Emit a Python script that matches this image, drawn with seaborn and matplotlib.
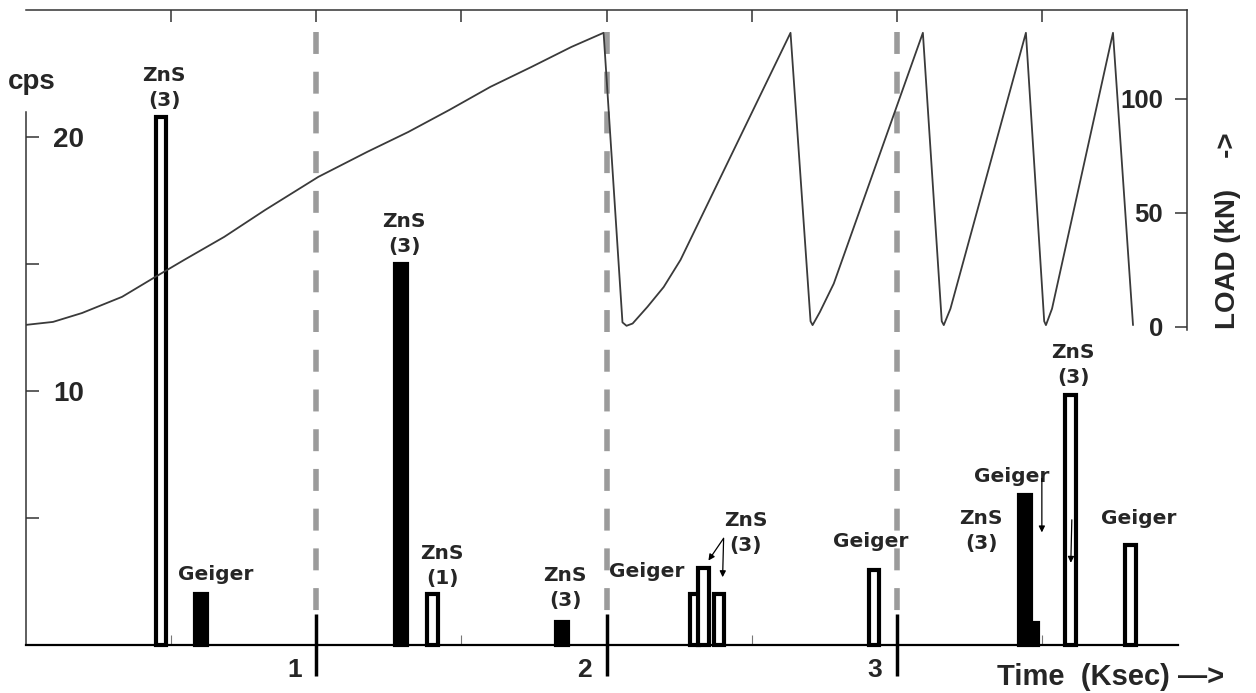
"""Radiation counts (cps) and load curve versus time for a loaded specimen."""

import matplotlib

matplotlib.use("Agg")

import matplotlib.pyplot as plt
import matplotlib.transforms as mtransforms
import numpy as np
import seaborn as sns


# load curve, time in Ksec, load in kN
LOAD_TIME = [0.000, 0.093, 0.193, 0.331, 0.445, 0.545, 0.683, 0.824, 1.007, 1.176,
             1.317, 1.459, 1.600, 1.741, 1.879, 1.990,
             2.055, 2.069, 2.090, 2.141, 2.197, 2.255, 2.634,
             2.703, 2.710, 2.735, 2.783, 3.090,
             3.155, 3.162, 3.185, 3.445,
             3.508, 3.514, 3.535, 3.745,
             3.814]
LOAD_KN = [0.9, 2.2, 6.1, 13.2, 21.9, 29.4, 39.5, 51.3, 65.8, 76.8,
           85.5, 95.2, 105.3, 114.0, 122.8, 129.0,
           2.0, 0.5, 1.5, 8.8, 17.5, 29.4, 129.0,
           2.5, 0.8, 6.5, 19.0, 129.0,
           2.5, 0.8, 8.0, 129.0,
           2.5, 0.8, 8.0, 129.0,
           0.8]

# count-rate bars
BAR_TIME = [0.466, 0.602, 1.293, 1.400, 1.847, 2.303, 2.334, 2.388,
            2.921, 3.443, 3.481, 3.598, 3.805]
BAR_CPS = [20.8, 2.0, 15.0, 2.0, 0.9, 2.0, 3.05, 2.0,
           2.95, 5.9, 0.85, 9.85, 3.95]

ANNOT_BAR = [0, 1, 2, 3, 4, 5, 6, 8, 9, 9, 11, 12]
ANNOT_TEXT = ["ZnS\n(3)", "Geiger", "ZnS\n(3)", "ZnS\n(1)", "ZnS\n(3)", "Geiger",
              "ZnS\n(3)", "Geiger", "ZnS\n(3)", "Geiger", "ZnS\n(3)", "Geiger"]

MARK_TIMES = [1, 2, 3]
CPS_TICKS = [5, 10, 15, 20]
CPS_TICK_LABELS = ["", "10", "", "20"]
LOAD_TICKS = [0, 50, 100]

# layout (pixels at 100 dpi)
SOLID_BARS = {1, 2, 4, 9, 10}
OPEN_WIDTH = 0.036
SOLID_WIDTH = 0.041
WIDTH_OVERRIDE = {5: 0.028, 10: 0.012}
ANNOT_OFFSET = [(3, 7), (15, 10), (3, 8), (10, 6), (3, 12), (-48, 13), (42, 13),
                (-3, 19), (-44, -58), (-14, 9), (3, 8), (8, 17)]
# (bar, tip offset from bar top, tail offset from tip)
ARROWS = [(6, (5, 7), (15, 22)), (7, (3.5, 17), (1, 39)),
          (10, (5.5, 91), (0, 54)), (11, (0.5, -168), (1, 43))]

PT = 0.72


def main() -> None:
    sns.set_style("ticks")
    plt.rcParams["font.family"] = ["Liberation Sans", "DejaVu Sans"]
    plt.rcParams["font.weight"] = "bold"

    fig = plt.figure(figsize=(12.56, 6.93), dpi=100)
    ax = fig.add_axes([26 / 1256, 48 / 693, 1161 / 1256, 635 / 693])
    ax.set_xlim(0, 4)
    ax.set_ylim(0, 25)
    ax2 = ax.twinx()
    ax2.set_ylim(-139.5, 139.0)

    ax.vlines(MARK_TIMES, 24.15, 1.35, colors="#9b9b9b", linewidth=4.0,
              linestyles=[(0, (3.95, 3.2))], zorder=1)

    for i, (t, c) in enumerate(zip(BAR_TIME, BAR_CPS)):
        solid = i in SOLID_BARS
        width = WIDTH_OVERRIDE.get(i, SOLID_WIDTH if solid else OPEN_WIDTH)
        ax.bar(t, c, width=width, color="black" if solid else "white",
               edgecolor="black", linewidth=3.0, clip_on=False, zorder=3)

    sns.lineplot(x=LOAD_TIME, y=LOAD_KN, ax=ax2, color="#3a3a3a", linewidth=1.3,
                 estimator=None, sort=False)

    for bar, text, (dx, dy) in zip(ANNOT_BAR, ANNOT_TEXT, ANNOT_OFFSET):
        ax.annotate(text, xy=(BAR_TIME[bar], BAR_CPS[bar]), xytext=(dx * PT, dy * PT),
                    textcoords="offset points", ha="center", va="bottom",
                    fontsize=14.5, fontweight="bold", family="DejaVu Sans",
                    linespacing=1.4, annotation_clip=False, zorder=5)

    for bar, (tdx, tdy), (sdx, sdy) in ARROWS:
        tip = mtransforms.offset_copy(ax.transData, fig=fig, x=tdx * PT, y=tdy * PT,
                                      units="points")
        ax.annotate("", xy=(BAR_TIME[bar], BAR_CPS[bar]), xycoords=tip,
                    xytext=(sdx * PT, sdy * PT), textcoords="offset points",
                    arrowprops=dict(arrowstyle="-|>", color="black", lw=0.9,
                                    mutation_scale=9, shrinkA=0, shrinkB=0),
                    annotation_clip=False, zorder=5)

    # spines
    for side in ("top", "right"):
        ax.spines[side].set_visible(False)
    ax.spines["left"].set_bounds(0, 21.0)
    ax.spines["left"].set_linewidth(1.1)
    ax.spines["left"].set_color("#333333")
    ax.spines["bottom"].set_bounds(0, 3.97)
    ax.spines["bottom"].set_linewidth(1.6)
    ax.spines["bottom"].set_color("black")
    for side in ("top", "left", "bottom"):
        ax2.spines[side].set_visible(False)
    ax2.spines["right"].set_bounds(-1.3, 139.0)
    ax2.spines["right"].set_linewidth(1.1)
    ax2.spines["right"].set_color("#333333")

    top = ax.secondary_xaxis("top")
    top.set_xticks(np.arange(0.5, 4.0, 0.5))
    top.tick_params(direction="in", length=8.6, width=1.1, colors="#333333",
                    labeltop=False, labelbottom=False)
    top.spines["top"].set_linewidth(1.1)
    top.spines["top"].set_color("#333333")

    # bottom time axis
    ax.set_xticks(MARK_TIMES)
    ax.set_xticklabels([str(t) for t in MARK_TIMES])
    ax.set_xticks([0.5, 1.5, 2.5, 3.5], minor=True)
    ax.tick_params(axis="x", which="major", direction="inout", length=44, width=2.5,
                   color="black", pad=-12.6, labelsize=19)
    ax.tick_params(axis="x", which="minor", direction="in", length=7, width=0.8,
                   color="#777777")
    shift = mtransforms.ScaledTranslation(-22 / 100, 0, fig.dpi_scale_trans)
    for lab in ax.get_xticklabels():
        lab.set_transform(lab.get_transform() + shift)
        lab.set_fontweight("bold")

    # cps axis
    ax.set_yticks(CPS_TICKS)
    ax.set_yticklabels(CPS_TICK_LABELS)
    ax.tick_params(axis="y", direction="in", length=9.4, width=1.1, color="#333333",
                   pad=-19.4, labelsize=20)
    for lab in ax.get_yticklabels():
        lab.set_horizontalalignment("left")
        lab.set_fontweight("bold")

    # load axis
    ax2.set_yticks(LOAD_TICKS)
    ax2.set_yticklabels([str(v) for v in LOAD_TICKS])
    ax2.tick_params(axis="y", direction="in", length=8.6, width=1.1, color="#333333",
                    pad=-17.3, labelsize=18.5)
    for lab in ax2.get_yticklabels():
        lab.set_horizontalalignment("right")
        lab.set_fontweight("bold")
    ax2.set_ylabel("")
    ax.set_xlabel("")
    ax.set_ylabel("")

    fig.text(32 / 1256, 1 - 82 / 693, "cps", ha="center", va="center",
             fontsize=20, fontweight="bold")
    fig.text(1228 / 1256, 1 - 231 / 693, "LOAD (kN)    ->", rotation=90,
             ha="center", va="center", fontsize=20, fontweight="bold")
    fig.text(997 / 1256, 1 - 677 / 693, "Time  (Ksec) —>", ha="left", va="center",
             fontsize=21, fontweight="bold")

    fig.savefig("out.png", dpi=100)
    plt.close(fig)


if __name__ == "__main__":
    main()
